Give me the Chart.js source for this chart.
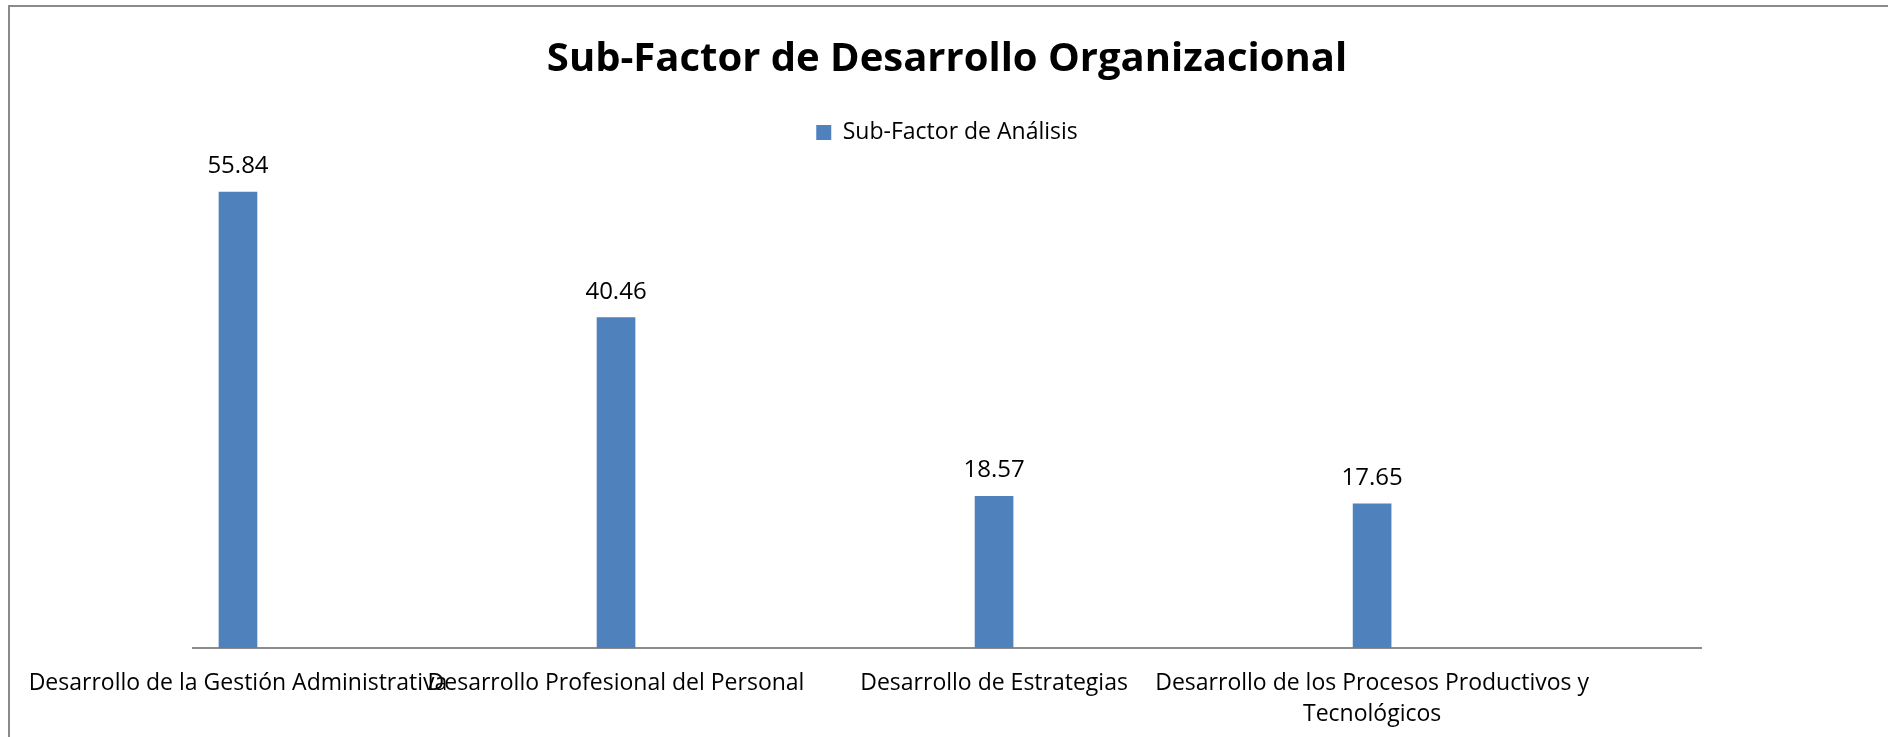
<!DOCTYPE html>
<html>
<head>
<meta charset="utf-8">
<script src="https://cdn.jsdelivr.net/npm/chart.js@4/dist/chart.umd.min.js"></script>
<style>
  html, body { margin: 0; padding: 0; background: #fff; }
  #wrap { position: relative; width: 1888px; height: 737px; overflow: hidden; }
  #frame {
    position: absolute; left: 8px; top: 5px; width: 2000px; height: 2000px;
    border-left: 2px solid #8a8a8a; border-top: 2px solid #8a8a8a;
    pointer-events: none;
  }
</style>
</head>
<body>
<div id="wrap">
  <canvas id="chart" width="1888" height="737"></canvas>
  <div id="frame"></div>
</div>
<script>
const chartTitle = 'Sub-Factor de Desarrollo Organizacional';
const seriesName = 'Sub-Factor de Análisis';
const categories = [
  'Desarrollo de la Gestión Administrativa',
  'Desarrollo Profesional del Personal',
  'Desarrollo de Estrategias',
  ['Desarrollo de los Procesos Productivos y', 'Tecnológicos']
];
const values = [55.84, 40.46, 18.57, 17.65];

const barColor = '#4f81bd';
const fontFamily = "'Open Sans', Lato, sans-serif";

// valores encima de cada barra
const valueLabels = {
  id: 'valueLabels',
  afterDatasetsDraw(chart) {
    const ctx = chart.ctx;
    const meta = chart.getDatasetMeta(0);
    ctx.save();
    ctx.font = '24px ' + fontFamily;
    ctx.fillStyle = '#000';
    ctx.textAlign = 'center';
    ctx.textBaseline = 'alphabetic';
    meta.data.forEach((bar, i) => {
      ctx.fillText(values[i].toFixed(2), bar.x, bar.y - 19);
    });
    ctx.restore();
  }
};

// un poco más de aire debajo de la leyenda
const legendGap = {
  id: 'legendGap',
  beforeInit(chart) {
    const fit = chart.legend.fit;
    chart.legend.fit = function () {
      fit.call(this);
      this.height += 4;
    };
  }
};

new Chart(document.getElementById('chart'), {
  type: 'bar',
  data: {
    datasets: [{
      label: seriesName,
      data: values.map((v, i) => ({ x: i, y: v })),
      backgroundColor: barColor,
      borderWidth: 0,
      barThickness: 38
    }]
  },
  options: {
    responsive: false,
    animation: false,
    devicePixelRatio: 1,
    layout: { padding: { left: 193, right: 187, top: 0, bottom: 0 } },
    scales: {
      x: {
        type: 'linear',
        offset: false,
        min: -0.119,
        max: 3.87,
        grid: { display: false, drawTicks: false },
        border: { display: true, color: '#8c8c8c', width: 2 },
        ticks: {
          stepSize: 1,
          includeBounds: false,
          autoSkip: false,
          maxRotation: 0,
          minRotation: 0,
          padding: 20,
          color: '#000',
          font: { family: fontFamily, size: 23, lineHeight: 1.36 },
          callback: (value) => Number.isInteger(value) ? categories[value] : ''
        },
        afterFit(scale) {
          scale.height = 89;
          scale.paddingLeft = 0;
          scale.paddingRight = 0;
        }
      },
      y: {
        display: false,
        min: 0,
        max: 60
      }
    },
    plugins: {
      title: {
        display: true,
        text: chartTitle,
        color: '#000',
        font: { family: fontFamily, size: 40, weight: 'bold', lineHeight: 1.2 },
        padding: { top: 36, bottom: 27 }
      },
      legend: {
        display: true,
        labels: {
          boxWidth: 15,
          boxHeight: 15,
          padding: 10,
          color: '#000',
          font: { family: fontFamily, size: 23 }
        }
      },
      tooltip: { enabled: false }
    }
  },
  plugins: [valueLabels, legendGap]
});
</script>
</body>
</html>
